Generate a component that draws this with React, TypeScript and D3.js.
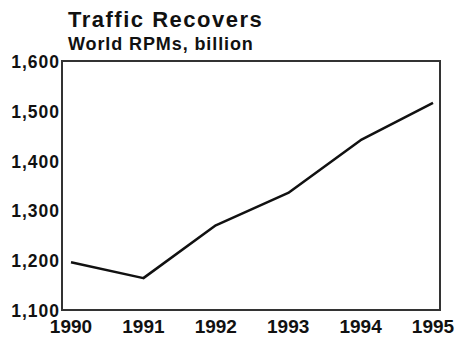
import React from "react";
import * as d3 from "d3";

const years = [1990, 1991, 1992, 1993, 1994, 1995];
const rpms = [1196, 1164, 1270, 1335, 1441, 1516];
const yTicks = [1100, 1200, 1300, 1400, 1500, 1600];
const title = "Traffic Recovers";
const subtitle = "World RPMs, billion";

export default function App() {
  const width = 458;
  const height = 339;
  const frame = { left: 62, right: 440, top: 61, bottom: 310 };

  const x = d3.scaleLinear().domain([1990, 1995]).range([71, 433]);
  const y = d3.scaleLinear().domain([1100, 1600]).range([frame.bottom, frame.top]);

  const line = d3
    .line<number>()
    .x((_, i) => x(years[i]))
    .y((d) => y(d));

  const font = "'Liberation Sans', Arial, Helvetica, sans-serif";

  return (
    <svg
      width={width}
      height={height}
      style={{ position: "absolute", left: 0, top: 0, background: "#fff" }}
      fontFamily={font}
    >
      <text x={68} y={27} fontSize={22} fontWeight="bold" fill="#111" letterSpacing={1.5}>
        {title}
      </text>
      <text x={68} y={50} fontSize={18} fontWeight="bold" fill="#111" letterSpacing={0.9}>
        {subtitle}
      </text>

      <rect
        x={frame.left}
        y={frame.top}
        width={frame.right - frame.left}
        height={frame.bottom - frame.top}
        fill="none"
        stroke="#333"
        strokeWidth={2}
      />

      {yTicks.map((t) => (
        <text
          key={t}
          x={60}
          y={y(t) + 7}
          textAnchor="end"
          fontSize={17.5}
          fontWeight="bold"
          fill="#111"
          letterSpacing={1}
        >
          {d3.format(",")(t)}
        </text>
      ))}

      {years.map((yr) => (
        <text
          key={yr}
          x={x(yr)}
          y={333}
          textAnchor="middle"
          fontSize={19}
          fontWeight="bold"
          fill="#111"
        >
          {yr}
        </text>
      ))}

      <path
        d={line(rpms) ?? ""}
        fill="none"
        stroke="#111"
        strokeWidth={2.5}
        strokeLinejoin="round"
      />
    </svg>
  );
}
